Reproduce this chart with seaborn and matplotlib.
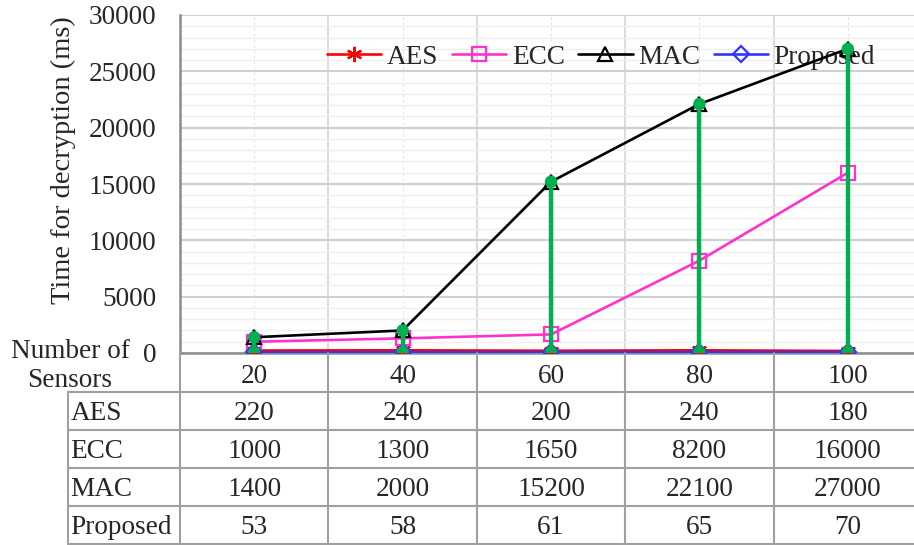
import seaborn as sns
import matplotlib.pyplot as plt
from matplotlib.ticker import MultipleLocator

# data
sensors = [20, 40, 60, 80, 100]
aes = [220, 240, 200, 240, 180]
ecc = [1000, 1300, 1650, 8200, 16000]
mac = [1400, 2000, 15200, 22100, 27000]
proposed = [53, 58, 61, 65, 70]

names = ['AES', 'ECC', 'MAC', 'Proposed']
colors = ['#FF0000', '#FF33CC', '#000000', '#3333FF']
markers = [(6, 2, 0), 's', '^', 'D']
msizes = [11, 10, 10, 8]

sns.set_style('white')
plt.rcParams['font.family'] = ['Liberation Serif', 'DejaVu Serif']
FS = 19.6

W, H = 914, 545
fig = plt.figure(figsize=(W / 100, H / 100), dpi=100)
L, R, T, B = 180, 922, 15, 353
ax = fig.add_axes([L / W, 1 - B / H, (R - L) / W, (B - T) / H])


def ay(py):
    # pixel row -> axes fraction
    return (B - py) / (B - T)


# series lines
for name, vals, col, mk, ms in zip(names, [aes, ecc, mac, proposed], colors, markers, msizes):
    sns.lineplot(x=sensors, y=vals, ax=ax, color=col, lw=1.9, marker=mk, ms=ms,
                 mfc='none', mec=col, mew=1.6, label=name, zorder=3)

# high-low lines (min to max per category)
ax.vlines(sensors, proposed, mac, color='#00B050', lw=3.2, zorder=4)
sns.scatterplot(x=sensors + sensors, y=mac + proposed, ax=ax, color='#00B050',
                s=80, edgecolor='none', legend=False, zorder=5)

ax.set_xlim(10, 110)
ax.set_ylim(0, 30000)
ax.set_xlabel('')
ax.set_ylabel('')

# grid
ax.yaxis.set_major_locator(MultipleLocator(5000))
ax.yaxis.set_minor_locator(MultipleLocator(1000))
ax.set_xticks(sensors)
ax.set_xticklabels([str(s) for s in sensors])
ax.set_xticks([30, 50, 70, 90], minor=True)
ax.grid(which='minor', axis='y', color='#EFEFEF', lw=1.0)
ax.grid(which='major', axis='y', color='#D0D0D0', lw=1.5)
ax.grid(which='minor', axis='x', color='#D9D9D9', lw=1.3)
ax.grid(which='major', axis='x', color='#E8E8E8', lw=0.8, ls=(0, (3, 2)))
ax.set_axisbelow(True)

for s in ['top', 'right']:
    ax.spines[s].set_visible(False)
for s in ['left', 'bottom']:
    ax.spines[s].set_color('#8C8C8C')
    ax.spines[s].set_linewidth(1.8)

ax.tick_params(axis='y', which='major', length=6, width=1.5, color='#8C8C8C', pad=11, labelsize=FS)
ax.tick_params(axis='y', which='minor', length=0)
ax.tick_params(axis='x', which='both', length=0, pad=8, labelsize=FS)

# legend
leg = ax.legend(loc='center', bbox_to_anchor=(601 / W, 1 - 57 / H), bbox_transform=fig.transFigure,
                ncol=4, frameon=False, fontsize=FS, handlelength=2.0, handletextpad=0.2,
                columnspacing=0.5, borderaxespad=0, borderpad=0)
leg.set_zorder(2.5)

# data table under the axis
tr = ax.get_xaxis_transform()
line_kw = dict(color='#A0A0A0', lw=1.5, clip_on=False, zorder=6)
rows = [392, 430, 468, 506, 544]
x_left = 10 - (L - 68) / (R - L) * 100
for py in rows:
    ax.plot([x_left, 110], [ay(py)] * 2, transform=tr, **line_kw)
ax.plot([x_left, x_left], [ay(392), ay(544)], transform=tr, **line_kw)
for xb in [10, 30, 50, 70, 90, 110]:
    ax.plot([xb, xb], [0, ay(544)], transform=tr, **line_kw)

table_vals = [aes, ecc, mac, proposed]
for i, (name, vals) in enumerate(zip(names, table_vals)):
    base = ay(rows[i] + 28)
    ax.text(x_left + 0.35, base, name, transform=tr, ha='left', va='baseline', fontsize=FS, clip_on=False)
    for xs, v in zip(sensors, vals):
        ax.text(xs, base, str(v), transform=tr, ha='center', va='baseline', fontsize=FS, clip_on=False)

fig.text(70 / W, 1 - 358 / H, 'Number of', ha='center', va='baseline', fontsize=FS)
fig.text(70 / W, 1 - 387 / H, 'Sensors', ha='center', va='baseline', fontsize=FS)
fig.text(63 / W, 1 - 160 / H, 'Time for decryption (ms)', rotation=90, ha='center', va='center', fontsize=20.5)

fig.savefig('out.png', dpi=100)
